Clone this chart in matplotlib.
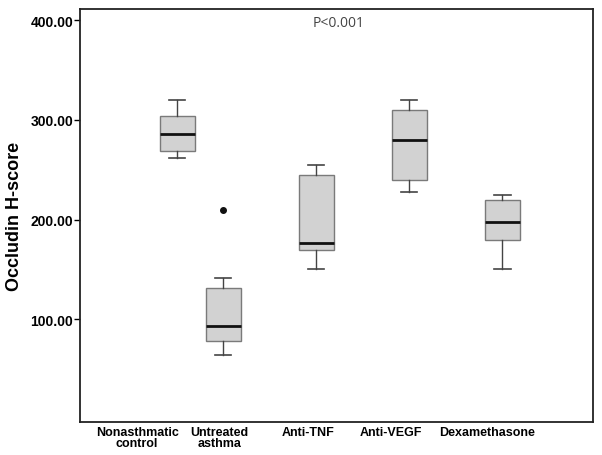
import matplotlib
matplotlib.use('Agg')
import matplotlib.pyplot as plt

plt.rcParams['font.family'] = ['Liberation Sans', 'DejaVu Sans']

# data
groups = ['Nonasthmatic\ncontrol', 'Untreated\nasthma', 'Anti-TNF', 'Anti-VEGF', 'Dexamethasone']
whislo = [262, 64, 150, 228, 150]
q1 = [269, 78, 170, 240, 180]
med = [286, 93, 177, 280, 198]
q3 = [304, 131, 245, 310, 220]
whishi = [320, 141, 255, 320, 225]
fliers = [[], [210], [], [], []]
yticks = [100, 200, 300, 400]

# layout (box centres and label centres are not aligned in the original)
boxPos = [1.505, 2.0, 3.0, 4.0, 5.005]
labelPos = [1.075, 1.957, 2.914, 3.806, 4.839]

stats = []
for i in range(len(groups)):
	stats.append({'whislo': whislo[i], 'q1': q1[i], 'med': med[i], 'q3': q3[i],
		'whishi': whishi[i], 'fliers': fliers[i]})

fig = plt.figure(figsize = (6.02, 4.56), dpi = 100)
ax = fig.add_axes([0.133, 0.072, 0.852, 0.906])

ax.bxp(stats, positions = boxPos, widths = 0.376, patch_artist = True, capwidths = 0.18,
	boxprops = dict(facecolor = '#d2d2d2', edgecolor = '#7a7a7a', linewidth = 1.0),
	medianprops = dict(color = '#111111', linewidth = 2.0),
	whiskerprops = dict(color = '#444444', linewidth = 1.0),
	capprops = dict(color = '#444444', linewidth = 1.2),
	flierprops = dict(marker = 'o', markersize = 4, markerfacecolor = '#111111',
		markeredgecolor = '#111111'))

ax.set_xlim(0.462, 5.978)
ax.set_ylim(-3, 411)
ax.set_yticks(yticks)
ax.set_yticklabels(['%.2f' % v for v in yticks], fontsize = 10, fontweight = 'bold')
ax.set_xticks(labelPos)
ax.set_xticklabels(groups, fontsize = 9, fontweight = 'bold', linespacing = 0.85)
ax.tick_params(axis = 'x', length = 0, pad = 3)
ax.tick_params(axis = 'y', length = 4, width = 1, pad = 1)
ax.set_ylabel('Occludin H-score', fontsize = 13, fontweight = 'bold', labelpad = 5)

for s in ax.spines.values():
	s.set_linewidth(1.3)
	s.set_color('#222222')

ax.text(0.505, 0.985, 'P<0.001', transform = ax.transAxes, ha = 'center', va = 'top',
	fontsize = 10, color = '#444444', family = 'Open Sans')

fig.savefig('out.png', dpi = 100)
